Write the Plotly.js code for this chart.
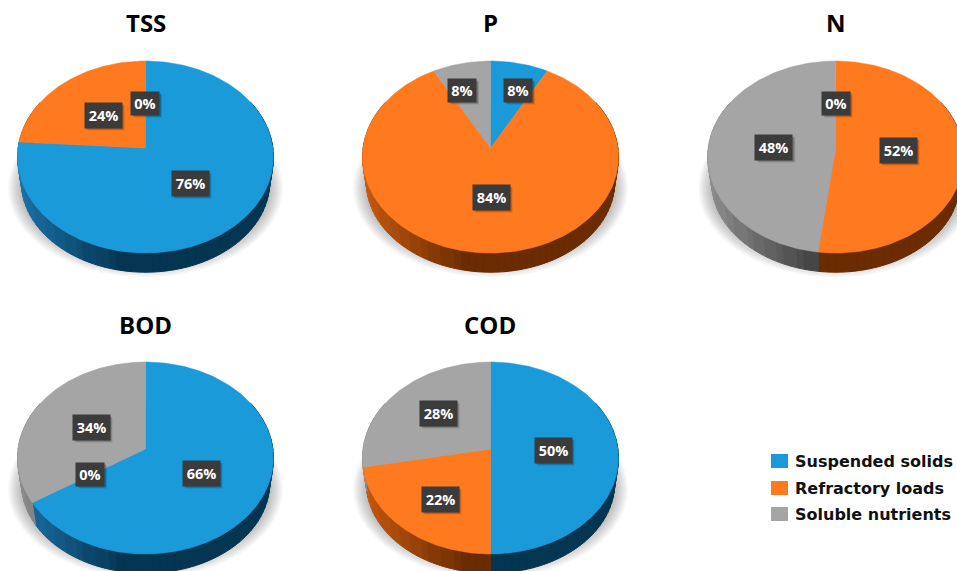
<!DOCTYPE html>
<html>
<head>
<meta charset="utf-8">
<script src="https://cdn.plot.ly/plotly-3.0.1.min.js"></script>
<style>html,body{margin:0;padding:0;background:#fff;overflow:hidden}#chart{width:957px;height:571px}</style>
</head>
<body>
<div id="chart"></div>
<script>
// Share of each load type per water-quality parameter (percent).
const parameters = ['TSS', 'P', 'N', 'BOD', 'COD'];
const seriesNames = ['Suspended solids', 'Refractory loads', 'Soluble nutrients'];
const suspendedSolids = [76, 8, 0, 66, 50];
const refractoryLoads = [24, 84, 52, 0, 22];
const solubleNutrients = [0, 8, 48, 34, 28];

// Presentation settings, kept apart from the values above.
const W = 957, H = 571;
const topColors = ['#1a9ad9', '#ff7a1f', '#a5a5a5'];
const wallLight = [[28, 112, 168], [196, 88, 16], [140, 140, 140]];
const wallDark = [[4, 54, 82], [106, 44, 0], [70, 70, 70]];
const hubs = [[145.5, 148], [490.5, 148], [835.7, 148], [145.5, 449], [490.5, 449]];
// Label centres relative to each hub, per series.
const labelOffsets = [
  [[44.5, 35], [-42.5, -33], [-0.5, -45]],
  [[27.5, -58], [0.5, 49], [-28.5, -58]],
  [[0, -45], [62.3, 2], [-62, -1]],
  [[55.5, 24], [-55.5, 25], [-54.5, -22]],
  [[62.5, 1], [-50.5, 50], [-52.5, -36]]
];

// Tilted-disc projection: a unit circle seen in slight perspective.
const B = 127.4, A = 95.16, K = 0.094;
function project(turnDeg) {
  const r = turnDeg * Math.PI / 180, X = Math.sin(r), Y = Math.cos(r), w = 1 + K * Y;
  return [B * X / w, -A * Y / w];
}
// Rim of the lower face of the disc, for the side wall.
function projectBase(turnDeg) {
  const p = project(turnDeg);
  return [p[0] * 0.97, p[1] * 0.94 + 25.5];
}

const traces = [], shapes = [], annotations = [];
const layout = {
  width: W, height: H, margin: {l: 0, r: 0, t: 0, b: 0},
  paper_bgcolor: '#ffffff', plot_bgcolor: 'rgba(0,0,0,0)',
  showlegend: false, hovermode: false
};
const font = 'Open Sans, Noto Sans, sans-serif';

function lerp(a, b, t) { return Math.round(a + (b - a) * t); }
function wallShade(s, level) {
  const t = level / 10;
  return `rgb(${lerp(wallLight[s][0], wallDark[s][0], t)},${lerp(wallLight[s][1], wallDark[s][1], t)},${lerp(wallLight[s][2], wallDark[s][2], t)})`;
}

parameters.forEach((name, i) => {
  const [cx, cy] = hubs[i];
  const id = i === 0 ? '' : String(i + 1);
  const xa = 'x' + id, ya = 'y' + id;
  const left = -142, right = Math.min(142, W - cx), up = -100, down = Math.min(140, H - cy);
  layout['xaxis' + id] = {domain: [(cx + left) / W, (cx + right) / W], range: [left, right], visible: false, fixedrange: true, anchor: ya};
  layout['yaxis' + id] = {domain: [1 - (cy + down) / H, 1 - (cy + up) / H], range: [down, up], visible: false, fixedrange: true, anchor: xa};
  const common = {xaxis: xa, yaxis: ya, type: 'scatter', mode: 'lines', hoverinfo: 'skip', showlegend: false};

  // Soft shadow under the disc, built from stacked translucent ellipses.
  for (let n = 0; n < 10; n++) {
    const xs = [], ys = [], grow = n * 1.6;
    for (let d = 0; d <= 360; d += 5) {
      const r = d * Math.PI / 180;
      xs.push((123 + grow) * Math.sin(r));
      ys.push(40 + (75 + grow) * Math.cos(r));
    }
    traces.push({...common, x: xs, y: ys, fill: 'toself', fillcolor: 'rgba(0,0,0,0.033)', line: {width: 0}});
  }

  const values = [suspendedSolids[i], refractoryLoads[i], solubleNutrients[i]];
  // Side wall: narrow strips grouped by shade so each slice is one gradient.
  let start = 0;
  values.forEach((v, s) => {
    const end = start + v * 3.6;
    const groups = {};
    for (let d = Math.max(start, 60); d < Math.min(end, 300); d += 3) {
      const next = Math.min(d + 3, end, 300);
      const a = project(d), b = project(next), c = projectBase(next), e = projectBase(d);
      const lean = Math.max(0, Math.min(1, (a[0] + 125) / 105));
      const level = Math.round(lean * 10);
      const g = groups[level] || (groups[level] = {x: [], y: []});
      g.x.push(a[0], b[0], c[0], e[0], a[0], null);
      g.y.push(a[1], b[1], c[1], e[1], a[1], null);
    }
    Object.keys(groups).forEach(level => {
      const color = wallShade(s, +level);
      traces.push({...common, x: groups[level].x, y: groups[level].y, fill: 'toself', fillcolor: color, line: {color, width: 1}});
    });
    start = end;
  });

  // Top face of the disc: one wedge per non-zero share.
  start = 0;
  values.forEach((v, s) => {
    const end = start + v * 3.6;
    if (v > 0) {
      const xs = [0], ys = [0];
      for (let d = start; d < end; d += 1) {
        const p = project(d);
        xs.push(p[0]); ys.push(p[1]);
      }
      const p = project(end);
      xs.push(p[0], 0); ys.push(p[1], 0);
      traces.push({...common, name: seriesNames[s], x: xs, y: ys, fill: 'toself', fillcolor: topColors[s], line: {color: topColors[s], width: 0.5}});
    }
    start = end;
  });

  // Percentage tags on dark boxes with a small drop shadow.
  values.forEach((v, s) => {
    const [ox, oy] = labelOffsets[i][s];
    const text = v + '%';
    const bw = text.length > 2 ? 37 : 28, bh = text.length > 2 ? 25 : 23;
    [[3, 3, 0.12], [2, 2, 0.2]].forEach(([dx, dy, alpha]) => {
      shapes.push({type: 'rect', xref: xa, yref: ya, layer: 'above',
        x0: ox - bw / 2 + dx, x1: ox + bw / 2 + dx, y0: oy - bh / 2 + dy, y1: oy + bh / 2 + dy,
        fillcolor: `rgba(0,0,0,${alpha})`, line: {width: 0}});
    });
    annotations.push({xref: xa, yref: ya, x: ox, y: oy, text, showarrow: false, width: bw, height: bh,
      align: 'center', valign: 'middle', bgcolor: '#3b3b3b', borderpad: 0,
      font: {family: font, size: 14.5, color: '#ffffff', weight: 700}});
  });

  // Parameter heading above the disc.
  annotations.push({xref: 'paper', yref: 'paper', x: cx / W, y: 1 - (cy - 125) / H, text: name, showarrow: false,
    xanchor: 'center', yanchor: 'middle', font: {family: font, size: 24, color: '#000000', weight: 700}});
});

// Colour key at the lower right.
const keyRows = [461, 488, 514];
seriesNames.forEach((name, s) => {
  shapes.push({type: 'rect', xref: 'paper', yref: 'paper', layer: 'above',
    x0: 771 / W, x1: 788 / W, y0: 1 - (keyRows[s] - 7) / H, y1: 1 - (keyRows[s] + 7) / H,
    fillcolor: topColors[s], line: {width: 0}});
  annotations.push({xref: 'paper', yref: 'paper', x: 793 / W, y: 1 - keyRows[s] / H, text: name, showarrow: false,
    xanchor: 'left', yanchor: 'middle', font: {family: 'DejaVu Sans, sans-serif', size: 16, color: '#111111', weight: 700}});
});

layout.shapes = shapes;
layout.annotations = annotations;
Plotly.newPlot('chart', traces, layout, {displayModeBar: false, staticPlot: true});
</script>
</body>
</html>
